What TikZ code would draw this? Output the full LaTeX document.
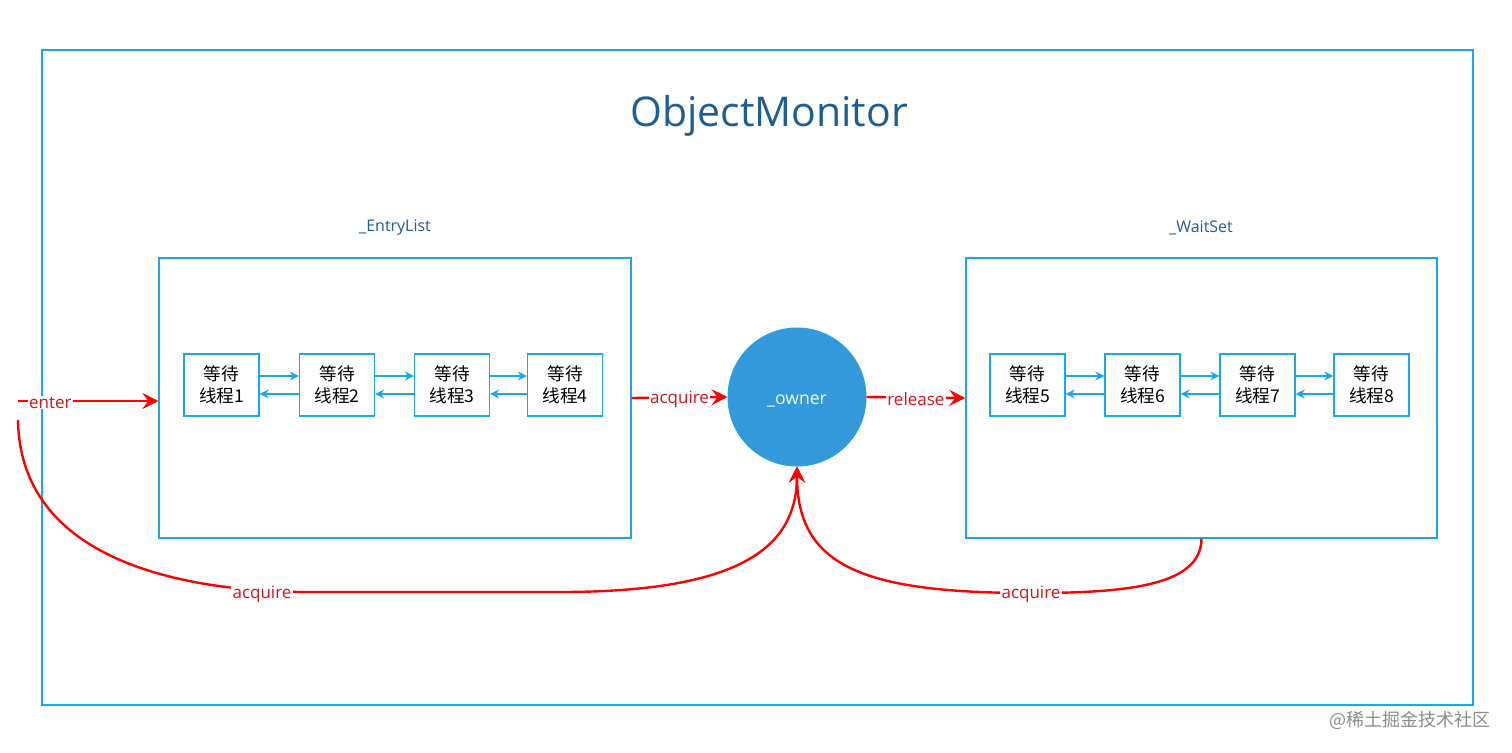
\documentclass[tikz,border=0pt]{standalone}
\usepackage{fontspec}
\setmainfont{Open Sans}
\newfontfamily\cjk{Noto Sans CJK SC}
\usetikzlibrary{arrows.meta}
\definecolor{frameblue}{HTML}{1BA8E6}
\definecolor{titleblue}{HTML}{1F5E91}
\definecolor{ownerblue}{HTML}{3399DB}
\definecolor{redline}{HTML}{FF0000}
\definecolor{redtext}{HTML}{D0141C}
\begin{document}
\begin{tikzpicture}[x=0.5pt,y=-0.5pt,
  frame/.style={draw=frameblue,line width=0.7pt},
  thread/.style={frame,fill=white,minimum width=37.5pt,minimum height=31pt,inner sep=0pt,align=center,font=\cjk\fontsize{8.8}{11}\selectfont},
  listbox/.style={frame,minimum width=236pt,minimum height=140pt,inner sep=0pt},
  link/.style={draw=frameblue,line width=0.7pt,-{Stealth[length=4.5pt,width=4.5pt,inset=1.5pt]}},
  redarrow/.style={draw=redline,line width=1.2pt,-{Stealth[length=8pt,width=8pt,inset=3pt]}},
  redcurve/.style={draw=redline,line width=1.2pt},
  lbl/.style={fill=white,text=redtext,inner sep=0.6pt,yshift=-0.8pt,font=\fontsize{8.5}{10}\selectfont},
  listcap/.style={text=titleblue,font=\fontsize{8}{10}\selectfont}]
\useasboundingbox (0,0) rectangle (1512,752);
% outer frame
\node[frame,minimum width=715.5pt,minimum height=327.5pt,inner sep=0pt] (mon) at (757.5,377.5) {};
\node[text=titleblue,font=\fontsize{20.5}{24}\selectfont] (title) at (769,116) {ObjectMonitor};
% lists
\node[listbox] (entry) at (395,398) {};
\node[listbox,minimum width=235.5pt] (wait) at (1201.5,398) {};
\node[listcap] (entrycap) at (395,228) {\_EntryList};
\node[listcap] (waitcap) at (1201,228) {\_WaitSet};
% threads
\node[thread] (t1) at (221.5,385) {等待\\线程1};
\node[thread] (t2) at (337,385) {等待\\线程2};
\node[thread] (t3) at (452,385) {等待\\线程3};
\node[thread] (t4) at (565,385) {等待\\线程4};
\node[thread] (t5) at (1027.5,385) {等待\\线程5};
\node[thread] (t6) at (1142.5,385) {等待\\线程6};
\node[thread] (t7) at (1257.5,385) {等待\\线程7};
\node[thread] (t8) at (1371.5,385) {等待\\线程8};
\foreach \a/\b in {t1/t2,t2/t3,t3/t4,t5/t6,t6/t7,t7/t8}{
  \draw[link] ([yshift=4.5pt]\a.east) -- ([yshift=4.5pt]\b.west);
  \draw[link] ([yshift=-4.5pt]\b.west) -- ([yshift=-4.5pt]\a.east);
}
% owner
\node[circle,fill=ownerblue,draw=frameblue!60!ownerblue,line width=0.5pt,minimum size=69pt,inner sep=0pt] (owner) at (797,397) {};
\node[text=white!92!ownerblue,font=\fontsize{8.8}{10}\selectfont] (ownertext) at ([yshift=-1.8pt]owner.center) {\_owner};
% red arrows
\coordinate (enterstart) at (18,401);
\coordinate (curvestart) at (18,420);
\draw[redarrow] (enterstart) -- node[lbl,pos=0.23] {enter} (enterstart -| entry.west);
\draw[redarrow] (entry.east) -- node[lbl] {acquire} (owner.west);
\draw[redarrow] (owner.east) -- node[lbl] {release} (wait.west);
% curves
\draw[redcurve,-{Stealth[length=8pt,width=8pt,inset=3pt]}] (curvestart) .. controls (20,555) and (170,590) .. (300,592) -- (560,592) .. controls (745,592) and (797,545) .. (owner.south);
\draw[redcurve,-{Stealth[length=8pt,width=8pt,inset=3pt]}] (wait.south) .. controls (1201,585) and (1130,593) .. (1031,593) .. controls (860,593) and (797,565) .. (owner.south);
\node[lbl] (acq1) at (262,593) {acquire};
\node[lbl] (acq2) at (1031,593) {acquire};
% watermark
\node[text=black!45,font=\cjk\fontsize{9}{11}\selectfont] (wm) at (1410,720) {@稀土掘金技术社区};
\end{tikzpicture}
\end{document}
